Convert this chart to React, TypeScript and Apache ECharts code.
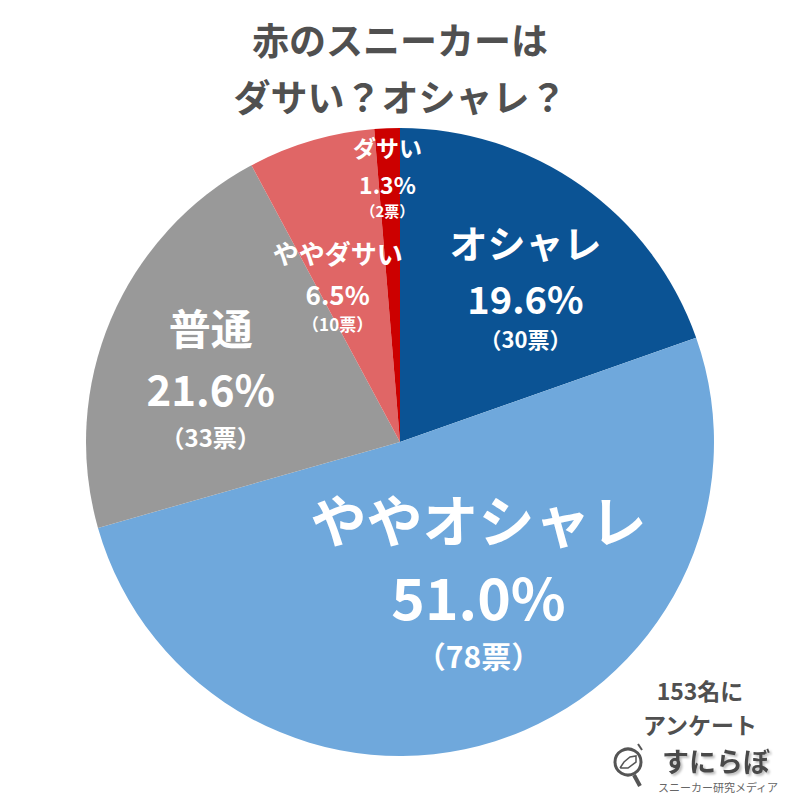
import React, { useEffect, useRef } from "react";
import * as echarts from "echarts";

const categories = ["オシャレ", "ややオシャレ", "普通", "ややダサい", "ダサい"];
const votes = [30, 78, 33, 10, 2];
const colors = ["#0b5394", "#6fa8dc", "#999999", "#e06666", "#cc0000"];
const titleText = "赤のスニーカーは\nダサい？オシャレ？";
const noteLines = ["153名に", "アンケート"];
const logoName = "すにらぼ";
const logoSub = "スニーカー研究メディア";

// label styling per slice: [nameSize, pctSize, cntSize, lineH, cntLineH, offsetX, offsetY]
const labelStyles: number[][] = [
  [38, 38, 22, 56, 26, 33, -29],
  [56, 57, 30, 78, 42, 30, -17],
  [42, 42, 24, 61, 37, -42, -4],
  [26, 26, 17, 41, 19, -17, -6],
  [23, 23, 15, 37, 15, -6, -109],
];

const FONT = "'Noto Sans CJK JP', 'Noto Sans', sans-serif";

export default function App() {
  const ref = useRef<HTMLDivElement>(null);
  useEffect(() => {
    if (!ref.current) return;
    const chart = echarts.init(ref.current, null, { renderer: "svg" });
    const total = votes.reduce((a, b) => a + b, 0);
    const data = categories.map((name, i) => {
      const [ns, ps, cs, lh, clh, ox, oy] = labelStyles[i];
      return {
        name,
        value: votes[i],
        itemStyle: { color: colors[i] },
        label: {
          offset: [ox, oy],
          rich: {
            n: { fontSize: ns, lineHeight: lh, color: "#fff", fontWeight: "bold", fontFamily: FONT },
            p: { fontSize: ps, lineHeight: lh, color: "#fff", fontWeight: "bold", fontFamily: FONT },
            c: { fontSize: cs, lineHeight: clh, color: "#fff", fontWeight: "bold", fontFamily: FONT },
          },
        },
      };
    });
    chart.setOption({
      animation: false,
      backgroundColor: "#ffffff",
      title: {
        text: titleText,
        left: "center",
        top: 5,
        textStyle: {
          fontSize: 37,
          lineHeight: 57,
          fontWeight: "bold",
          color: "#505050",
          fontFamily: FONT,
        },
      },
      series: [
        {
          type: "pie",
          center: [400, 442],
          radius: [0, 314],
          startAngle: 90,
          clockwise: true,
          avoidLabelOverlap: false,
          minShowLabelAngle: 0,
          labelLayout: { hideOverlap: false },
          itemStyle: { borderWidth: 0 },
          emphasis: { disabled: true },
          label: {
            show: true,
            position: "inside",
            align: "center",
            verticalAlign: "middle",
            formatter: (p: any) =>
              `{n|${p.name}}\n{p|${((p.value / total) * 100).toFixed(1)}%}\n{c|（${p.value}票）}`,
          },
          labelLine: { show: false },
          data,
        },
      ],
      graphic: [
        {
          type: "text",
          x: 700,
          y: 690,
          style: {
            text: noteLines[0],
            fontSize: 23,
            fontWeight: "bold",
            fill: "#505050",
            fontFamily: FONT,
            align: "center",
            verticalAlign: "middle",
          },
        },
        {
          type: "text",
          x: 700,
          y: 724,
          style: {
            text: noteLines[1],
            fontSize: 23,
            fontWeight: "bold",
            fill: "#505050",
            fontFamily: FONT,
            align: "center",
            verticalAlign: "middle",
          },
        },
        {
          type: "text",
          x: 716,
          y: 760,
          style: {
            text: logoName,
            fontSize: 27,
            fontWeight: "bold",
            fill: "#4a4a4a",
            fontFamily: FONT,
            align: "center",
            verticalAlign: "middle",
            textShadowColor: "rgba(0,0,0,0.25)",
            textShadowOffsetX: 2,
            textShadowOffsetY: 2,
            textShadowBlur: 2,
          },
        },
        {
          type: "text",
          x: 718,
          y: 787,
          style: {
            text: logoSub,
            fontSize: 11,
            fill: "#666666",
            fontFamily: FONT,
            align: "center",
            verticalAlign: "middle",
          },
        },
        {
          type: "circle",
          shape: { cx: 628, cy: 762, r: 13 },
          style: { fill: "none", stroke: "#555555", lineWidth: 3 },
        },
        {
          type: "line",
          shape: { x1: 634, y1: 775, x2: 640, y2: 786 },
          style: { stroke: "#555555", lineWidth: 4 },
        },
        {
          type: "line",
          shape: { x1: 638, y1: 744, x2: 642, y2: 750 },
          style: { stroke: "#555555", lineWidth: 2 },
        },
        {
          type: "polyline",
          shape: { points: [[620, 768], [624, 762], [630, 757], [636, 756], [636, 762], [628, 768], [620, 768]] },
          style: { fill: "none", stroke: "#555555", lineWidth: 1.5 },
        },
      ],
    });
    return () => chart.dispose();
  }, []);
  return (
    <div
      ref={ref}
      style={{ position: "fixed", left: 0, top: 0, width: 800, height: 800, background: "#fff" }}
    />
  );
}
